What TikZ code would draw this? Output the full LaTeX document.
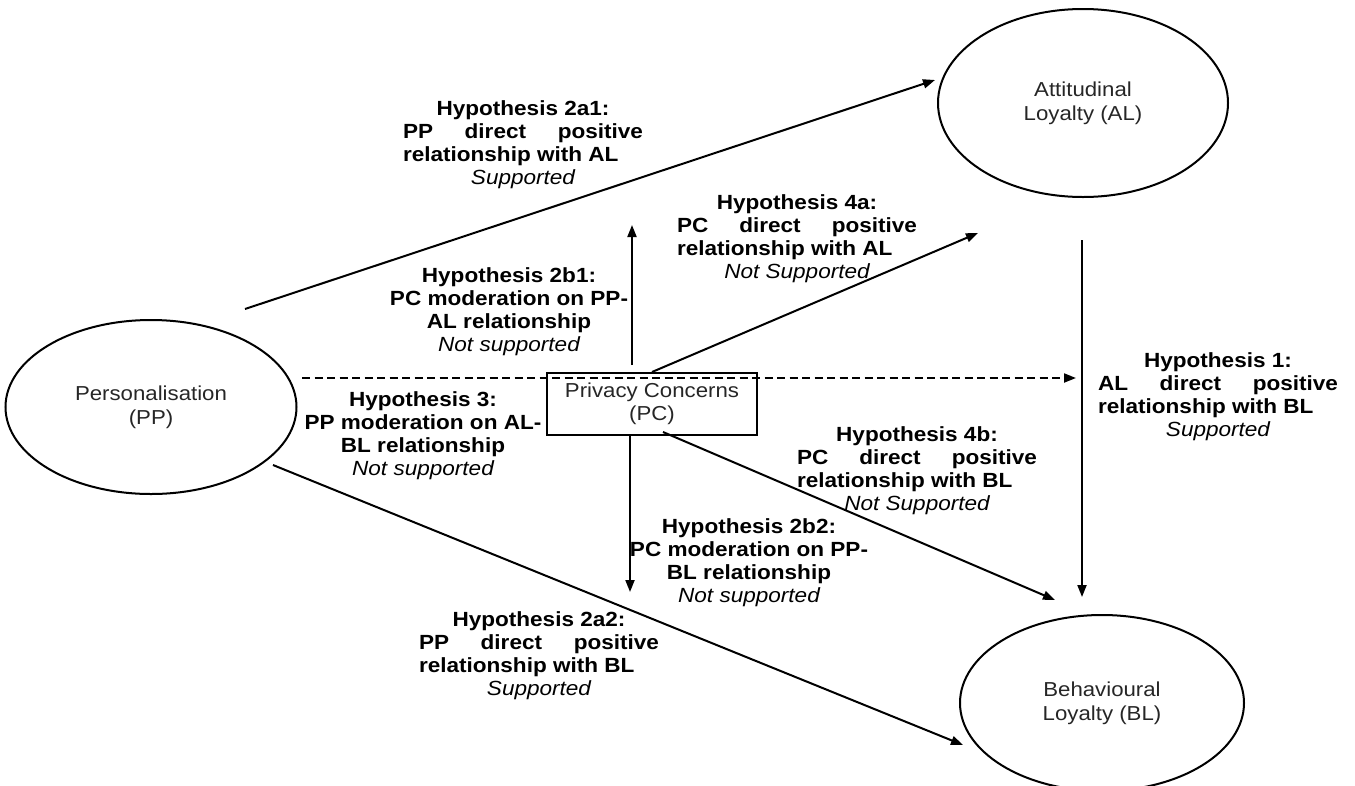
\documentclass[tikz,border=0pt]{standalone}
\usepackage{fontspec}
\setmainfont{Liberation Sans}[FakeStretch=1.1]
\usetikzlibrary{arrows.meta,shapes.geometric}

% justified hypothesis label: width, title, stretched line, left line, status
\newcommand\hypj[5]{\begin{tabular}{@{}c@{}}\bfseries #2\\
  \makebox[#1][s]{\bfseries #3}\\
  \makebox[#1][l]{\bfseries #4}\\
  \itshape #5\end{tabular}}
% centred hypothesis label: title, line, line, status
\newcommand\hypc[4]{\begin{tabular}{@{}c@{}}\bfseries #1\\
  \bfseries #2\\
  \bfseries #3\\
  \itshape #4\end{tabular}}

\tikzset{
  construct/.style={draw, ellipse, line width=2pt, inner sep=0pt, align=center,
    font=\fontsize{20.2}{24}\selectfont, text=black!85},
  pcbox/.style={draw, rectangle, line width=2pt, inner sep=0pt, align=center,
    minimum width=210pt, minimum height=62pt,
    font=\fontsize{20.2}{23}\selectfont, text=black!85},
  link/.style={line width=2pt, -{Triangle[length=12pt,width=9pt]}},
  moder/.style={link, dash pattern=on 8pt off 4.5pt},
  hyplabel/.style={inner sep=0pt, font=\fontsize{20.5}{23}\selectfont},
}

\begin{document}
\begin{tikzpicture}[x=1pt, y=-1pt]
\useasboundingbox (0,0) rectangle (1355,785);
\clip (0,0) rectangle (1355,785);

% constructs
\node[construct, minimum width=291pt, minimum height=174pt] (PP) at (151,407) {Personalisation\\(PP)};
\node[construct, minimum width=290pt, minimum height=188pt] (AL) at (1083,103) {Attitudinal\\Loyalty (AL)};
\node[construct, minimum width=284pt, minimum height=176pt] (BL) at (1102,703) {Behavioural\\Loyalty (BL)};
\node[pcbox] (PC) at (652,404) {Privacy Concerns\\(PC)};

% free ends of the connectors
\coordinate (ppA) at (245,309);
\coordinate (alIn) at (935,80);
\coordinate (ppB) at (273,465);
\coordinate (blIn) at (963,745);
\coordinate (ppM) at (302,378);
\coordinate (hOne) at (1076,378);
\coordinate (alOut) at (1082,240);
\coordinate (blTop) at (1082,597);
\coordinate (pcUpS) at (632,365);
\coordinate (pcUpE) at (632,225);
\coordinate (pcDnE) at (630,592);
\coordinate (pcBlS) at (663,432);
\coordinate (pcBlE) at (1055,600);
\coordinate (pcAlE) at (978,233);

% connectors
\draw[link] (ppA) -- (alIn);
\draw[link] (ppB) -- (blIn);
\draw[moder] (ppM) -- (hOne);
\draw[link] (alOut) -- (blTop);
\draw[link] (pcUpS) -- (pcUpE);
\draw[link] (PC.south -| pcDnE) -- (pcDnE);
\draw[link] (PC.north) -- (pcAlE);
\draw[link] (pcBlS) -- (pcBlE);

% hypothesis labels
\node[hyplabel] (h2a1) at (523,145) {\hypj{240pt}{Hypothesis 2a1:}{PP direct positive}{relationship with AL}{Supported}};
\node[hyplabel] (h4a) at (797,239) {\hypj{240pt}{Hypothesis 4a:}{PC direct positive}{relationship with AL}{Not Supported}};
\node[hyplabel] (h2b1) at (509,312) {\hypc{Hypothesis 2b1:}{PC moderation on PP-}{AL relationship}{Not supported}};
\node[hyplabel] (h3) at (423,436) {\hypc{Hypothesis 3:}{PP moderation on AL-}{BL relationship}{Not supported}};
\node[hyplabel] (h1) at (1218,397) {\hypj{240pt}{Hypothesis 1:}{AL direct positive}{relationship with BL}{Supported}};
\node[hyplabel] (h4b) at (917,471) {\hypj{240pt}{Hypothesis 4b:}{PC direct positive}{relationship with BL}{Not Supported}};
\node[hyplabel] (h2b2) at (749,563) {\hypc{Hypothesis 2b2:}{PC moderation on PP-}{BL relationship}{Not supported}};
\node[hyplabel] (h2a2) at (539,656) {\hypj{240pt}{Hypothesis 2a2:}{PP direct positive}{relationship with BL}{Supported}};
\end{tikzpicture}
\end{document}
